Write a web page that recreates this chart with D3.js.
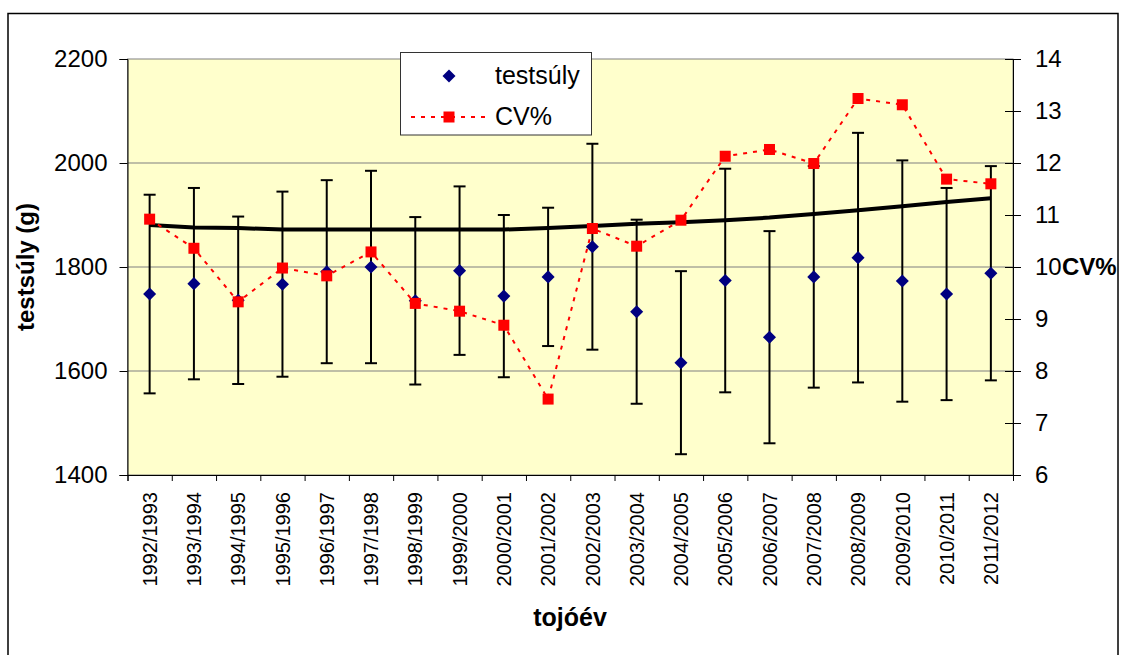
<!DOCTYPE html>
<html>
<head>
<meta charset="utf-8">
<script src="https://d3js.org/d3.v7.min.js"></script>
<style>
  body { margin: 0; background: #fff; }
  svg text { font-family: "Liberation Sans", Arial, sans-serif; }
</style>
</head>
<body>
<svg width="1121" height="655"></svg>
<script>
// data
var seasons = ["1992/1993","1993/1994","1994/1995","1995/1996","1996/1997","1997/1998","1998/1999","1999/2000","2000/2001","2001/2002",
               "2002/2003","2003/2004","2004/2005","2005/2006","2006/2007","2007/2008","2008/2009","2009/2010","2010/2011","2011/2012"];
var weight = [1748,1768,1736,1767,1791,1800,1735,1793,1744,1781,1839,1714,1616,1774,1665,1781,1818,1773,1748,1788];
var weightSd = [191,184,161,178,176,185,161,162,156,133,198,177,176,215,204,213,240,232,204,206];
var cv = [10.92,10.36,9.33,9.98,9.83,10.29,9.30,9.15,8.88,7.46,10.74,10.40,10.90,12.13,12.26,11.99,13.24,13.12,11.69,11.60];
var trend = [1881,1876,1875,1872,1872,1872,1872,1872,1872,1875,1879,1883,1886,1890,1895,1902,1909,1917,1925,1932];
var leftTicks = [1400,1600,1800,2000,2200];
var rightTicks = [6,7,8,9,10,11,12,13,14];

var svg = d3.select("svg");
var L = 127.5, R = 1013, T = 59, B = 475;

// outer frame
svg.append("rect").attr("x",8).attr("y",13.5).attr("width",1110).attr("height",660)
   .attr("fill","none").attr("stroke","#000").attr("stroke-width",1.5);

var x = d3.scaleBand().domain(seasons).range([L,R]);
var xb = d3.scaleLinear().domain([0,seasons.length]).range([L,R]);
var y = d3.scaleLinear().domain([1400,2200]).range([B,T]);
var y2 = d3.scaleLinear().domain([6,14]).range([B,T]);
var cx = function(i){ return x(seasons[i]) + x.bandwidth()/2; };

// plot area
svg.append("rect").attr("x",L).attr("y",T).attr("width",R-L).attr("height",B-T)
   .attr("fill","#FFFFCC").attr("stroke","#808080").attr("stroke-width",1);

// gridlines
svg.append("g").selectAll("line").data([1600,1800,2000]).enter().append("line")
   .attr("x1",L).attr("x2",R).attr("y1",function(d){return y(d)}).attr("y2",function(d){return y(d)})
   .attr("stroke","#808080").attr("stroke-width",1.2);

// left axis
var ga = svg.append("g").attr("transform","translate("+L+",0)")
   .call(d3.axisLeft(y).tickValues(leftTicks).tickFormat(d3.format("d")).tickSize(8).tickPadding(12));
ga.select(".domain").attr("stroke","#000");
ga.selectAll("text").attr("font-size",24).attr("fill","#000");

// right axis (ticks cross the line)
var gr = svg.append("g").attr("transform","translate("+R+",0)")
   .call(d3.axisRight(y2).tickValues(rightTicks).tickFormat(d3.format("d")).tickSize(8).tickPadding(14));
gr.selectAll(".tick line").attr("x1",-8);
gr.selectAll("text").attr("font-size",24).attr("fill","#000");

// bottom axis: ticks between categories, labels at centres
var gb = svg.append("g").attr("transform","translate(0,"+B+")")
   .call(d3.axisBottom(xb).ticks(seasons.length).tickSize(6).tickFormat(""));
gb.select(".domain").attr("stroke","#000");
var gl = svg.append("g").attr("transform","translate(0,"+B+")")
   .call(d3.axisBottom(x).tickSize(0));
gl.select(".domain").remove();
gl.selectAll("text").attr("font-size",20).attr("fill","#000")
   .attr("transform","rotate(-90)").attr("text-anchor","end")
   .attr("x",-17).attr("y",0).attr("dy","0.36em");

// axis titles
svg.append("text").attr("x",570).attr("y",626).attr("text-anchor","middle")
   .attr("font-size",25).attr("font-weight","bold").text("tojóév");
svg.append("text").attr("transform","translate(34,267) rotate(-90)").attr("text-anchor","middle")
   .attr("font-size",24).attr("font-weight","bold").text("testsúly (g)");
svg.append("text").attr("x",1062).attr("y",275)
   .attr("font-size",24).attr("font-weight","bold").text("CV%");

// error bars (mean ± sd)
var eb = svg.append("g").selectAll("g").data(weight).enter().append("g");
eb.append("line").attr("x1",function(d,i){return cx(i)}).attr("x2",function(d,i){return cx(i)})
  .attr("y1",function(d,i){return y(d+weightSd[i])}).attr("y2",function(d,i){return y(d-weightSd[i])})
  .attr("stroke","#000").attr("stroke-width",2);
eb.append("line").attr("x1",function(d,i){return cx(i)-6}).attr("x2",function(d,i){return cx(i)+6})
  .attr("y1",function(d,i){return y(d+weightSd[i])}).attr("y2",function(d,i){return y(d+weightSd[i])})
  .attr("stroke","#000").attr("stroke-width",2);
eb.append("line").attr("x1",function(d,i){return cx(i)-6}).attr("x2",function(d,i){return cx(i)+6})
  .attr("y1",function(d,i){return y(d-weightSd[i])}).attr("y2",function(d,i){return y(d-weightSd[i])})
  .attr("stroke","#000").attr("stroke-width",2);

// diamonds
var diamond = d3.symbol().type(d3.symbolSquare).size(85);
svg.append("g").selectAll("path").data(weight).enter().append("path")
   .attr("d",diamond)
   .attr("transform",function(d,i){return "translate("+cx(i)+","+y(d)+") rotate(45)"})
   .attr("fill","#000080");

// trend line
svg.append("path").datum(trend)
   .attr("d",d3.line().x(function(d,i){return cx(i)}).y(function(d){return y(d)}))
   .attr("fill","none").attr("stroke","#000").attr("stroke-width",4);

// CV% line + squares
svg.append("path").datum(cv)
   .attr("d",d3.line().x(function(d,i){return cx(i)}).y(function(d){return y2(d)}))
   .attr("fill","none").attr("stroke","#FF0000").attr("stroke-width",2).attr("stroke-dasharray","4,6");
svg.append("g").selectAll("rect").data(cv).enter().append("rect")
   .attr("x",function(d,i){return cx(i)-5.5}).attr("y",function(d){return y2(d)-5.5})
   .attr("width",11).attr("height",11).attr("fill","#FF0000");

// legend
var lg = svg.append("g");
lg.append("rect").attr("x",400.5).attr("y",52.5).attr("width",191).attr("height",82.5)
  .attr("fill","#fff").attr("stroke","#333").attr("stroke-width",1);
lg.append("path").attr("d",diamond).attr("transform","translate(449,76) rotate(45)").attr("fill","#000080");
lg.append("text").attr("x",495).attr("y",84).attr("font-size",25).text("testsúly");
lg.append("line").attr("x1",411).attr("x2",487).attr("y1",117).attr("y2",117)
  .attr("stroke","#FF0000").attr("stroke-width",2).attr("stroke-dasharray","4,6");
lg.append("rect").attr("x",443.5).attr("y",111.5).attr("width",11).attr("height",11).attr("fill","#FF0000");
lg.append("text").attr("x",495).attr("y",125).attr("font-size",25).text("CV%");
</script>
</body>
</html>
